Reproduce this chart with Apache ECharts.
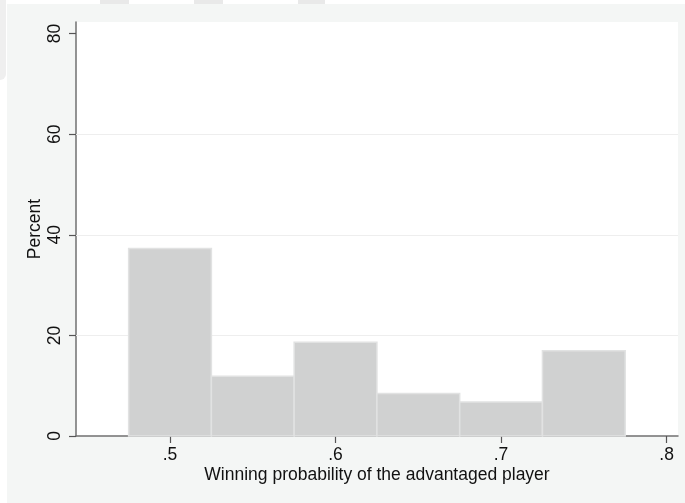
<!DOCTYPE html>
<html>
<head>
<meta charset="utf-8">
<script src="https://cdn.jsdelivr.net/npm/echarts@6/dist/echarts.min.js"></script>
<style>
  html, body { margin: 0; padding: 0; background: #ffffff; }
  #chart { width: 685px; height: 503px; }
</style>
</head>
<body>
<div id="chart"></div>
<script>
// Histogram of winning probabilities, bins of width 0.05
const binEdges = [0.475, 0.525, 0.575, 0.625, 0.675, 0.725, 0.775];
const percents = [37.29, 11.86, 18.64, 8.47, 6.78, 16.95];

const xTickValues = [0.5, 0.6, 0.7, 0.8];
const xTickLabels = ['.5', '.6', '.7', '.8'];
const yTickValues = [0, 20, 40, 60, 80];
const yGridValues = [20, 40, 60];

const xTitle = 'Winning probability of the advantaged player';
const yTitle = 'Percent';

const FONT = "'Liberation Sans', Arial, Helvetica, sans-serif";
const FS = 17.5;

const binData = percents.map((p, i) => [binEdges[i], binEdges[i + 1], p]);

const chart = echarts.init(document.getElementById('chart'), null, { renderer: 'canvas' });

chart.setOption({
  backgroundColor: '#ffffff',
  animation: false,
  graphic: [
    // outer panel
    { type: 'rect', z: -10, shape: { x: 7, y: 4, width: 678, height: 499 }, style: { fill: '#f4f6f5' } },
    // small tabs along the top edge
    { type: 'rect', z: -10, shape: { x: 100, y: 0, width: 29, height: 4 }, style: { fill: '#e9e9e9' } },
    { type: 'rect', z: -10, shape: { x: 194, y: 0, width: 29, height: 4 }, style: { fill: '#e9e9e9' } },
    { type: 'rect', z: -10, shape: { x: 298, y: 0, width: 27, height: 4 }, style: { fill: '#e9e9e9' } },
    // faint strip at the left edge
    { type: 'rect', z: -10, shape: { x: 0, y: 0, width: 6, height: 80, r: [0, 0, 6, 0] }, style: { fill: '#efefef' } }
  ],
  grid: {
    left: 76, right: 7, top: 22, bottom: 67,
    show: true, backgroundColor: '#ffffff', borderWidth: 0
  },
  xAxis: {
    type: 'value',
    min: 0.4432, max: 0.8069,
    name: xTitle,
    nameLocation: 'middle',
    nameGap: 30,
    nameMoveOverlap: false,
    nameTextStyle: { fontFamily: FONT, fontSize: FS, color: '#111' },
    axisLine: { show: true, onZero: false, lineStyle: { color: '#707070', width: 1.5 } },
    axisTick: { show: true, length: 7, customValues: xTickValues, lineStyle: { color: '#555', width: 1.2 } },
    axisLabel: {
      show: true, customValues: xTickValues, margin: 10,
      fontFamily: FONT, fontSize: FS, color: '#111',
      formatter: v => xTickLabels[xTickValues.findIndex(t => Math.abs(t - v) < 1e-9)]
    },
    splitLine: { show: false }
  },
  yAxis: {
    type: 'value',
    min: 0, max: 82.3,
    name: yTitle,
    nameLocation: 'middle',
    nameGap: 32,
    nameMoveOverlap: false,
    nameRotate: 90,
    nameTextStyle: { fontFamily: FONT, fontSize: FS, color: '#111' },
    axisLine: { show: true, onZero: false, lineStyle: { color: '#707070', width: 1.5 } },
    axisTick: { show: true, length: 7, customValues: yTickValues, lineStyle: { color: '#555', width: 1.2 } },
    axisLabel: {
      show: true, customValues: yTickValues, rotate: 90, margin: 12,
      fontFamily: FONT, fontSize: FS, color: '#111'
    },
    splitLine: { show: false }
  },
  series: [
    {
      // horizontal grid lines behind the bars
      type: 'line',
      data: [],
      z: 1,
      silent: true,
      markLine: {
        z: 1,
        silent: true,
        symbol: ['none', 'none'],
        label: { show: false },
        lineStyle: { color: '#eeeeee', width: 1.2, type: 'solid' },
        data: yGridValues.map(v => ({ yAxis: v }))
      }
    },
    {
      type: 'custom',
      z: 3,
      data: binData,
      encode: { x: [0, 1], y: 2 },
      renderItem: function (params, api) {
        const p0 = api.coord([api.value(0), 0]);
        const p1 = api.coord([api.value(1), api.value(2)]);
        return {
          type: 'rect',
          shape: { x: p0[0], y: p1[1], width: p1[0] - p0[0], height: p0[1] - p1[1] },
          style: { fill: '#d0d1d1', stroke: '#e1e2e2', lineWidth: 1.5 }
        };
      }
    }
  ]
});
</script>
</body>
</html>
